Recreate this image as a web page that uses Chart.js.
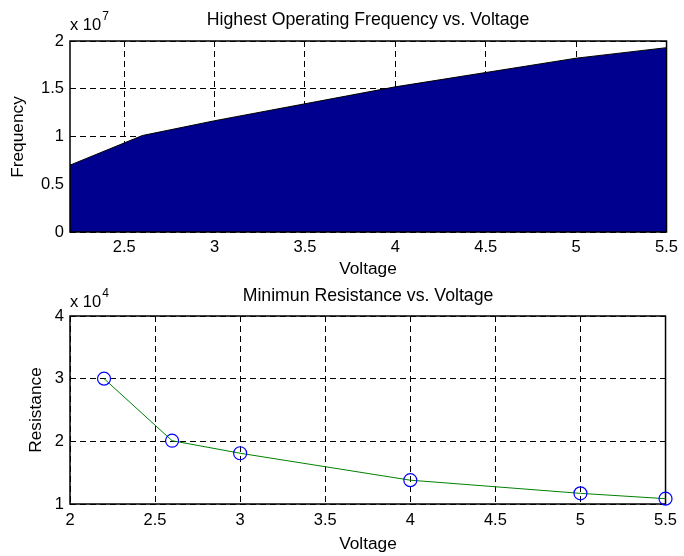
<!DOCTYPE html>
<html><head><meta charset="utf-8">
<script src="https://cdn.jsdelivr.net/npm/chart.js@4/dist/chart.umd.min.js"></script>
<style>
html,body{margin:0;padding:0;background:#fff;}
#wrap{position:relative;width:684px;height:556px;overflow:hidden;}
.c{position:absolute;left:0;width:684px;height:278px;}
</style></head><body>
<div id="wrap">
<div class="c" style="top:0"><canvas id="c1"></canvas></div>
<div class="c" style="top:278px"><canvas id="c2"></canvas></div>
</div>
<script>
const voltage = [2.2, 2.6, 3, 4, 5, 5.5];
const frequency = [7.0e6, 1.01e7, 1.165e7, 1.52e7, 1.82e7, 1.93e7];
const resistance = [30000, 20100, 18100, 13800, 11700, 10850];
const freqXTicks = [2.5, 3, 3.5, 4, 4.5, 5, 5.5];
const freqYTicks = [0, 0.5e7, 1e7, 1.5e7, 2e7];
const resXTicks = [2, 2.5, 3, 3.5, 4, 4.5, 5, 5.5];
const resYTicks = [1e4, 2e4, 3e4, 4e4];

const FONT = '"Liberation Sans", Arial, sans-serif';
Chart.defaults.color = '#000';
Chart.defaults.font.family = FONT;

function textPlugin(o) {
  return {
    id: 'txt' + o.id,
    beforeDatasetsDraw(chart) { if (!o.borderAfter) drawBorder(chart); },
    afterDatasetsDraw(chart) { if (o.borderAfter) drawBorder(chart); },
    afterDraw(chart) {
      const ctx = chart.ctx;
      ctx.save();
      ctx.fillStyle = '#000';
      ctx.textBaseline = 'alphabetic';
      ctx.font = '17.7px ' + FONT;
      ctx.textAlign = 'center';
      ctx.fillText(o.title, o.titleX, o.titleY);
      ctx.font = '17.3px ' + FONT;
      ctx.fillText(o.xlabel, o.titleX, o.xlabelY);
      ctx.textAlign = 'left';
      ctx.font = '16.5px ' + FONT;
      ctx.fillText('x 10', 70, o.expY);
      const w = ctx.measureText('x 10').width;
      ctx.font = '12px ' + FONT;
      ctx.fillText(o.expText, 70 + w + 1, o.expY - 10.5);
      ctx.font = '17.3px ' + FONT;
      ctx.translate(o.ylabelX, o.ylabelY);
      ctx.rotate(-Math.PI / 2);
      ctx.textAlign = 'center';
      ctx.fillText(o.ylabel, 0, 0);
      ctx.restore();
    }
  };
  function drawBorder(chart) {
    const a = chart.chartArea, ctx = chart.ctx;
    ctx.save();
    ctx.strokeStyle = '#000';
    ctx.lineWidth = 1.5;
    ctx.setLineDash([]);
    ctx.strokeRect(a.left, a.top, a.right - a.left, a.bottom - a.top);
    ctx.restore();
  }
}

function axes(xmin, xmax, xt, ymin, ymax, yt, yDiv, xH, xPad) {
  return {
    x: {
      type: 'linear', min: xmin, max: xmax,
      afterBuildTicks: s => { s.ticks = xt.map(v => ({ value: v })); },
      afterFit: s => { s.height = xH; },
      ticks: { padding: xPad, font: { size: 16.5 }, color: '#000', autoSkip: false, maxRotation: 0,
        callback: v => String(v) },
      grid: { color: '#000', lineWidth: 1, drawTicks: false },
      border: { display: false, dash: [6, 4] }
    },
    y: {
      type: 'linear', min: ymin, max: ymax,
      afterBuildTicks: s => { s.ticks = yt.map(v => ({ value: v })); },
      afterFit: s => { s.width = 70; },
      ticks: { padding: 6, font: { size: 16.5 }, color: '#000', autoSkip: false,
        callback: v => String(Math.round(v / yDiv * 100) / 100) },
      grid: { color: '#000', lineWidth: 1, drawTicks: false },
      border: { display: false, dash: [6, 4] }
    }
  };
}

new Chart(document.getElementById('c1'), {
  type: 'line',
  data: {
    datasets: [{
      data: voltage.map((v, i) => ({ x: v, y: frequency[i] })),
      borderColor: '#000', borderWidth: 1,
      backgroundColor: 'rgb(0,0,143)', fill: 'origin',
      pointRadius: 0, tension: 0
    }]
  },
  options: {
    responsive: true, maintainAspectRatio: false, animation: false,
    layout: { padding: { top: 41, right: 17, bottom: 0, left: 0 } },
    plugins: { legend: { display: false }, tooltip: { enabled: false } },
    scales: axes(2.2, 5.5, freqXTicks, 0, 2e7, freqYTicks, 1e7, 46, 6)
  },
  plugins: [textPlugin({ id: 1, borderAfter: true,
    title: 'Highest Operating Frequency vs. Voltage', titleX: 368, titleY: 25,
    xlabel: 'Voltage', xlabelY: 274, expY: 30, expText: '7',
    ylabel: 'Frequency', ylabelX: 23, ylabelY: 137 })]
});

new Chart(document.getElementById('c2'), {
  type: 'line',
  data: {
    datasets: [{
      data: voltage.map((v, i) => ({ x: v, y: resistance[i] })),
      borderColor: 'rgb(0,128,0)', borderWidth: 1,
      pointRadius: 6.5, pointStyle: 'circle',
      pointBorderColor: 'rgb(0,0,255)', pointBackgroundColor: 'rgba(0,0,0,0)',
      pointBorderWidth: 1.2, fill: false, tension: 0, clip: false
    }]
  },
  options: {
    responsive: true, maintainAspectRatio: false, animation: false,
    layout: { padding: { top: 38, right: 17, bottom: 0, left: 0 } },
    plugins: { legend: { display: false }, tooltip: { enabled: false } },
    scales: axes(2, 5.5, resXTicks, 1e4, 4e4, resYTicks, 1e4, 52, 7)
  },
  plugins: [textPlugin({ id: 2, borderAfter: false,
    title: 'Minimun Resistance vs. Voltage', titleX: 368, titleY: 23,
    xlabel: 'Voltage', xlabelY: 271, expY: 29, expText: '4',
    ylabel: 'Resistance', ylabelX: 41, ylabelY: 132 })]
});
</script>
</body></html>
